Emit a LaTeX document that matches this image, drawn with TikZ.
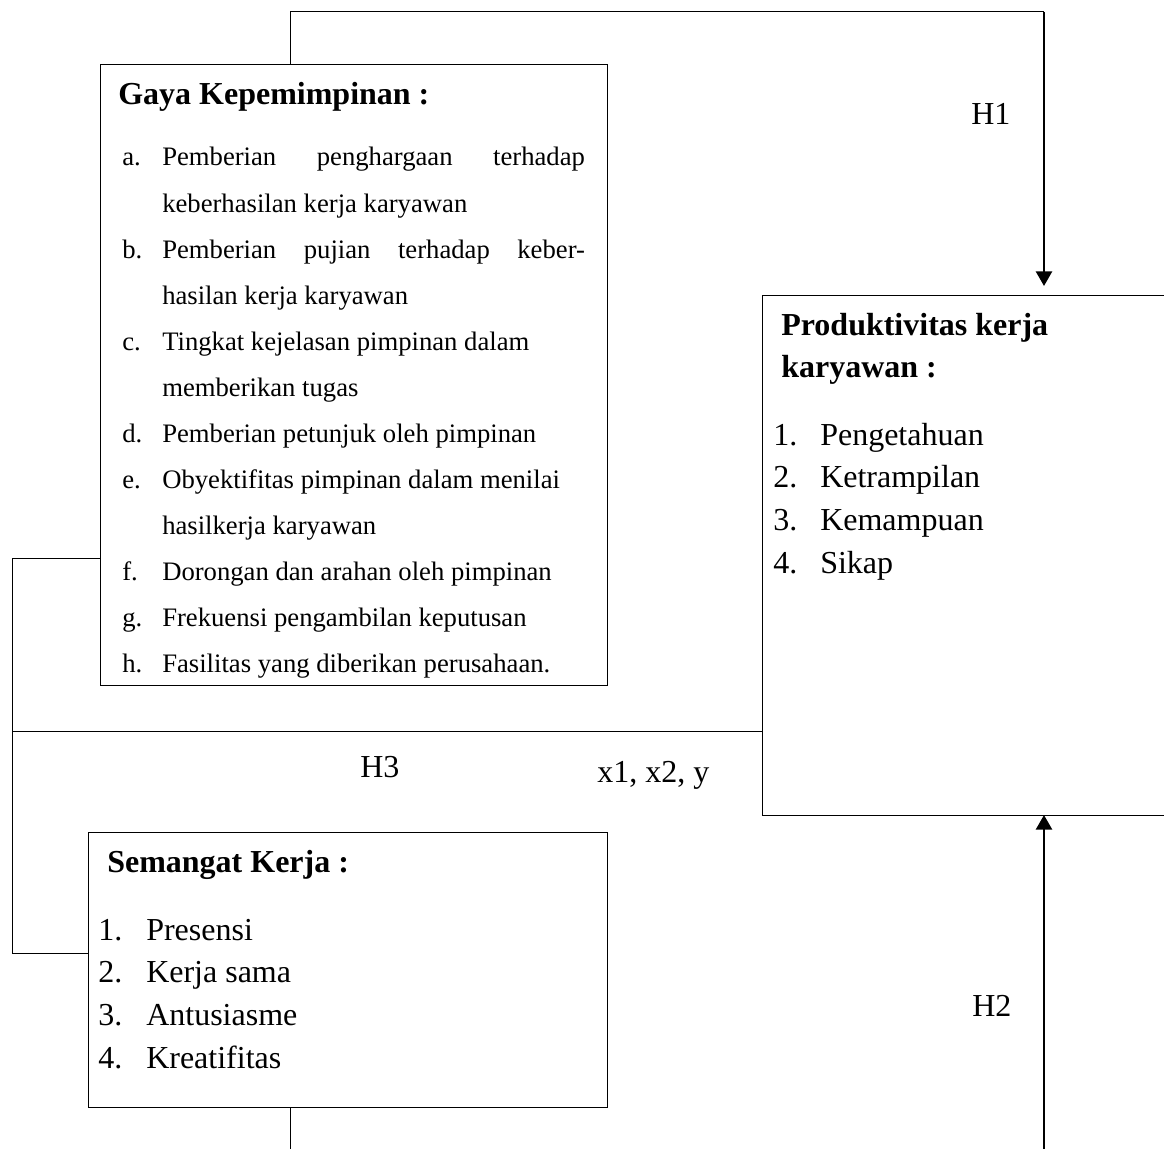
\documentclass[tikz,border=0pt]{standalone}
\usepackage{fontspec}
\setmainfont{Liberation Serif}
\usetikzlibrary{arrows.meta}

\begin{document}
\begin{tikzpicture}[
        x=0.75pt, y=-0.75pt, % one unit = one pixel of the sketch
        box/.style={draw, line width=0.75pt, inner sep=0pt, outer sep=0pt, anchor=north west},
        txt/.style={anchor=base west, inner sep=0pt, font=\fontsize{24}{28}\selectfont},
        small/.style={anchor=base west, inner sep=0pt, font=\fontsize{20}{24}\selectfont},
        head/.style={txt, font=\fontsize{24}{28}\selectfont\bfseries},
        link/.style={line width=0.75pt},
        arr/.style={line width=2pt, -{Triangle[width=12pt,length=11pt]}}
    ]

    \useasboundingbox (0,0) rectangle (1164,1149);
    \clip (0,0) rectangle (1164,1149);

    % the three boxes
    \node[box, minimum width=380.25pt, minimum height=465pt] (gaya) at (100,65) {};
    \node[box, minimum width=313.5pt, minimum height=390pt] (produk) at (762,295) {};
    \node[box, minimum width=389.25pt, minimum height=206.25pt] (semangat) at (88,832) {};

    % Gaya Kepemimpinan
    \node[head] (gayahead) at (118,104) {Gaya Kepemimpinan :};
    \foreach \lab/\txt [count=\i from 0] in {
            a./\hbox to 317pt{Pemberian\hfill penghargaan\hfill terhadap},
            /keberhasilan kerja karyawan,
            b./\hbox to 317pt{Pemberian\hfill pujian\hfill terhadap\hfill keber-},
            /hasilan kerja karyawan,
            c./Tingkat kejelasan pimpinan dalam,
            /memberikan tugas,
            d./Pemberian petunjuk oleh pimpinan,
            e./Obyektifitas pimpinan dalam menilai,
            /hasilkerja karyawan,
            f./Dorongan dan arahan oleh pimpinan,
            g./Frekuensi pengambilan keputusan,
            h./Fasilitas yang diberikan perusahaan.}{
        \node[small] (gayalab\i) at (122,{166+46*\i}) {\lab};
        \node[small] (gayatxt\i) at (162,{166+46*\i}) {\txt};
    }

    % Produktivitas kerja karyawan
    \node[head] (produkhead1) at (781,335) {Produktivitas kerja};
    \node[head] (produkhead2) at (781,377) {karyawan :};
    \foreach \txt [count=\i] in {Pengetahuan, Ketrampilan, Kemampuan, Sikap}{
        \node[txt] (produklab\i) at (773,{445+42.7*(\i-1)}) {\i.};
        \node[txt] (produktxt\i) at (820,{445+42.7*(\i-1)}) {\txt};
    }

    % Semangat Kerja
    \node[head] (semangathead) at (107,872) {Semangat Kerja :};
    \foreach \txt [count=\i] in {Presensi, Kerja sama, Antusiasme, Kreatifitas}{
        \node[txt] (semangatlab\i) at (98,{940+42.7*(\i-1)}) {\i.};
        \node[txt] (semangattxt\i) at (146,{940+42.7*(\i-1)}) {\txt};
    }

    % connectors
    \coordinate (h1a) at (290,12);
    \coordinate (h1b) at (1044,12);
    \draw[link] (gaya.north -| h1a) -- (h1a) -- (h1b);
    \draw[arr, shorten >=6.75pt] (h1b) -- (h1b |- produk.north);

    \coordinate (l1) at (12,558);
    \coordinate (l2) at (12,953);
    \draw[link] (gaya.west |- l1) -- (l1) -- (l2) -- (semangat.west |- l2);

    \coordinate (m1) at (12,731);
    \draw[link] (m1) -- (produk.west |- m1);

    \coordinate (b1) at (290,1149);
    \draw[link] (semangat.south -| b1) -- (b1);

    \coordinate (b2) at (1044,1149);
    \draw[arr] (b2) -- (b2 |- produk.south);

    % hypothesis labels
    \node[txt] (h1) at (971,124) {H1};
    \node[txt] (h2) at (972,1016) {H2};
    \node[txt] (h3) at (360,777) {H3};
    \node[txt] (vars) at (597,782) {x1, x2, y};

\end{tikzpicture}
\end{document}
